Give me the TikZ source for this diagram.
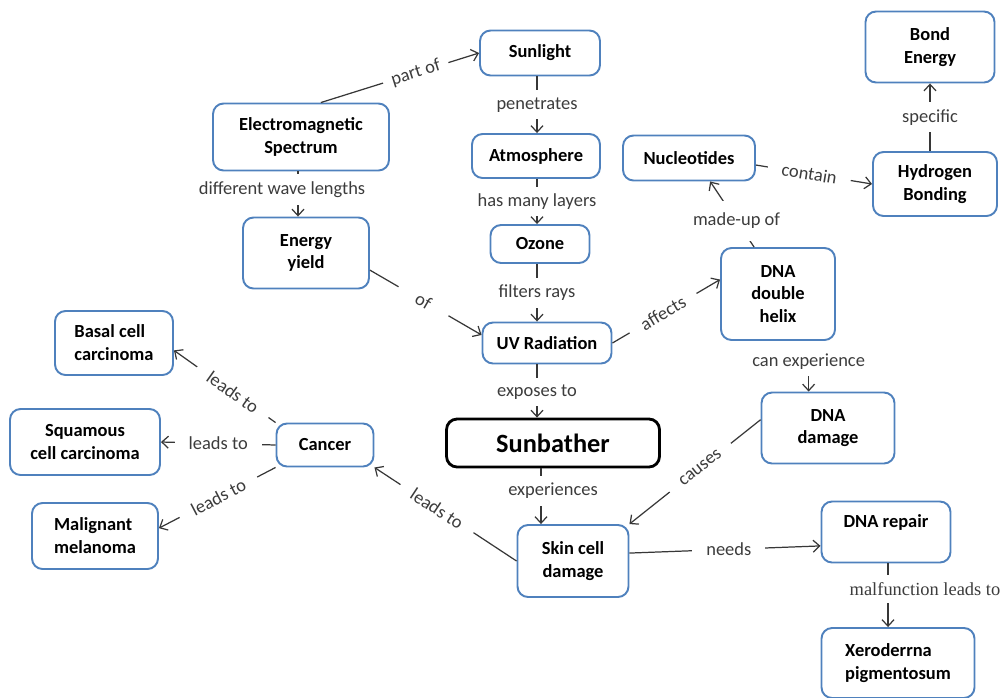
\documentclass[tikz,border=0pt]{standalone}
\usepackage{fontspec}
\setmainfont{Carlito}
\newfontfamily\timesfont{Liberation Serif}
\usetikzlibrary{arrows.meta}
\definecolor{boxblue}{RGB}{79,129,189}
\definecolor{linegray}{RGB}{55,55,55}
\definecolor{textgray}{RGB}{60,60,60}

\begin{document}
\begin{tikzpicture}[x=0.02cm,y=-0.02cm,
        box/.style={draw=boxblue,line width=1.1pt,rounded corners=6pt,align=center,
          font=\bfseries\fontsize{10.5}{13}\selectfont,inner sep=2pt},
        bigbox/.style={box,draw=black,line width=1.6pt,font=\bfseries\fontsize{15}{18}\selectfont},
        conn/.style={draw=linegray,line width=0.7pt,-{Straight Barb[length=1.3mm,width=2.4mm]}},
        lbl/.style={fill=white,inner xsep=8pt,inner ysep=4pt,text=textgray,
          font=\fontsize{10.5}{12}\selectfont}]
    \useasboundingbox (0,0) rectangle (1007,697);
    \node[box,minimum width=2.4cm,minimum height=0.9cm] (sun) at (540,53) {Sunlight};
    \node[box,minimum width=3.52cm,minimum height=1.34cm] (em) at (301,137) {Electromagnetic\\Spectrum};
    \node[box,minimum width=2.56cm,minimum height=0.88cm] (atm) at (536,156) {Atmosphere};
    \node[box,minimum width=1.98cm,minimum height=0.76cm] (oz) at (540,244) {Ozone};
    \node[box,minimum width=2.52cm,minimum height=1.42cm] (ey) at (306,253) {Energy\\yield};
    \node[box,minimum width=2.64cm,minimum height=0.9cm] (nuc) at (689,158) {Nucleotides};
    \node[box,minimum width=2.58cm,minimum height=1.42cm] (be) at (930,47) {Bond\\Energy};
    \node[box,minimum width=2.48cm,minimum height=1.28cm] (hb) at (935,184) {Hydrogen\\Bonding};
    \node[box,minimum width=2.28cm,minimum height=1.84cm] (dna) at (778,294) {DNA\\double\\helix};
    \node[box,minimum width=2.58cm,minimum height=0.82cm] (uv) at (547,343) {UV Radiation};
    \node[box,align=left,minimum width=2.36cm,minimum height=1.28cm] (bas) at (114,343) {Basal cell\\carcinoma};
    \node[box,minimum width=3cm,minimum height=1.32cm] (sq) at (85,442) {Squamous\\cell carcinoma};
    \node[box,minimum width=1.94cm,minimum height=0.86cm] (can) at (325,445) {Cancer};
    \node[box,align=left,minimum width=2.52cm,minimum height=1.32cm] (mal) at (95,536) {Malignant\\melanoma};
    \node[bigbox,minimum width=4.26cm,minimum height=0.96cm] (sb) at (553,443) {Sunbather};
    \node[box,minimum width=2.66cm,minimum height=1.42cm] (dd) at (828,428) {DNA\\damage};
    \node[box,minimum width=2.22cm,minimum height=1.44cm] (skin) at (573,561) {Skin cell\\damage};
    \node[box,minimum width=2.58cm,minimum height=1.22cm] (dr) at (886,532) {DNA repair\\\mbox{}};
    \node[box,align=left,minimum width=3.06cm,minimum height=1.4cm] (xp) at (898,663) {Xeroderrna\\pigmentosum};
    \coordinate (c1) at (537,0);
    \coordinate (c2) at (298,0);
    \coordinate (c3) at (541,0);
    \coordinate (c4) at (888,0);
    \draw[conn] (em.60) -- node[lbl,sloped,pos=.6,inner xsep=5pt] {part of} (sun.west);
    \draw[conn] (sun.south -| c1) -- node[lbl] {penetrates} (atm.north -| c1);
    \draw[conn] (atm.south -| c1) -- node[lbl] {has many layers} (oz.north -| c1);
    \draw[conn] (oz.south -| c1) -- node[lbl] {filters rays} (uv.north -| c1);
    \draw[conn] (uv.south -| c1) -- node[lbl,pos=.52] {exposes to} (sb.north -| c1);
    \draw[conn] (em.south -| c2) -- node[lbl,xshift=-0.32cm,pos=.4] {different wave lengths} (ey.north -| c2);
    \draw[conn] (ey.-15) -- node[lbl,sloped,pos=.48,inner xsep=12pt] {of} (uv.173);
    \draw[conn] (uv.east) -- node[lbl,sloped,pos=.47] {affects} (dna.166);
    \draw[conn] (dna.117) -- node[lbl,inner ysep=7pt,pos=.4] {made-up of} (nuc.-48);
    \draw[conn] (nuc.-6) -- node[lbl,sloped,pos=.46] {contain} (hb.west);
    \draw[conn] (hb.north -| be.south) -- node[lbl] {specific} (be.south);
    \draw[conn,shorten <=0.24cm] (dna.south -| dd.118) -- node[lbl,pos=.4] {can experience} (dd.118);
    \draw[conn] (sb.south -| c3) -- node[lbl,xshift=0.24cm,pos=.4] {experiences} (skin.north -| c3);
    \draw[conn] (dd.173) -- node[lbl,sloped,pos=.46] {causes} (skin.north east);
    \draw[conn] (skin.8) -- node[lbl,pos=.52] {needs} (dr.192);
    \draw[conn] (dr.south -| c4) -- node[lbl,xshift=0.74cm,pos=.4,font=\timesfont\fontsize{10.5}{12}\selectfont] {malfunction leads to} (xp.north -| c4);
    \draw[conn] (can.north west) -- node[lbl,sloped,pos=.42] {leads to} (bas.-7);
    \draw[conn] (can.west) -- node[lbl,pos=.5] {leads to} (sq.east);
    \draw[conn] (can.south west) -- node[lbl,sloped,pos=.49] {leads to} (mal.7);
    \draw[conn] (skin.west) -- node[lbl,sloped,pos=.56] {leads to} (can.south east);
\end{tikzpicture}
\end{document}
